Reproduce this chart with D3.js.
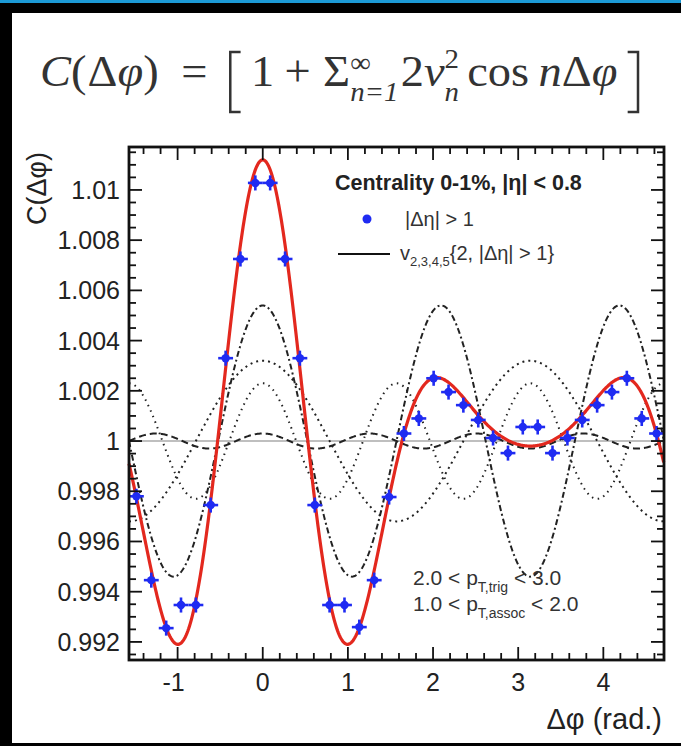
<!DOCTYPE html>
<html>
<head>
<meta charset="utf-8">
<script src="https://cdn.jsdelivr.net/npm/d3@7"></script>
<style>
  body { margin: 0; background: #000; }
  svg { display: block; }
</style>
</head>
<body>
<svg></svg>
<script>
// data
const binCenters = [-1.484, -1.309, -1.134, -0.960, -0.785, -0.611, -0.436, -0.262, -0.087,
  0.087, 0.262, 0.436, 0.611, 0.785, 0.960, 1.134, 1.309, 1.484,
  1.658, 1.833, 2.007, 2.182, 2.356, 2.531, 2.705, 2.880, 3.054,
  3.229, 3.403, 3.578, 3.752, 3.927, 4.101, 4.276, 4.451, 4.625];
const corrValues = [0.9978, 0.99446, 0.99255, 0.99347, 0.99347, 0.99745, 1.0033, 1.00725, 1.01028,
  1.01028, 1.00725, 1.0033, 0.99745, 0.99347, 0.99347, 0.99259, 0.99446, 0.99777,
  1.0003, 1.0009, 1.0025, 1.00195, 1.00143, 1.00084, 1.00012, 0.99952, 1.00056,
  1.00056, 0.99952, 1.00012, 1.00084, 1.00143, 1.00195, 1.0025, 1.0009, 1.0003];
const corrErrors = [0.0003, 0.0003, 0.0003, 0.0003, 0.0003, 0.0003, 0.0003, 0.0003, 0.0003,
  0.0003, 0.0003, 0.0003, 0.0003, 0.0003, 0.0003, 0.0003, 0.0003, 0.0003,
  0.0003, 0.0003, 0.0003, 0.0003, 0.0003, 0.0003, 0.0003, 0.0003, 0.0003,
  0.0003, 0.0003, 0.0003, 0.0003, 0.0003, 0.0003, 0.0003, 0.0003, 0.0003];
const binHalfWidth = Math.PI / 36;

// harmonic terms 2 v_n^2
const harmonics = [2, 3, 4, 5];
const amplitudes = [0.0032, 0.0054, 0.0023, 0.0003];
const dashes = ["2,4", "6,3,2,3", "1.5,4.5", "7,4"];

const xTicks = [-1, 0, 1, 2, 3, 4];
const yTicks = [0.992, 0.994, 0.996, 0.998, 1, 1.002, 1.004, 1.006, 1.008, 1.01];
const yTickLabels = ["0.992", "0.994", "0.996", "0.998", "1", "1.002", "1.004", "1.006", "1.008", "1.01"];

let width = 681,
  height = 746;

let svg = d3.select("svg").attr("width", width).attr("height", height);

// frame around the slide
svg.append("rect").attr("x", 0).attr("y", 0).attr("width", width).attr("height", 3).attr("fill", "#1c9ad6");
svg.append("rect").attr("x", 12).attr("y", 13).attr("width", width - 12).attr("height", 730).attr("fill", "#fff");

let x = d3.scaleLinear().domain([-Math.PI / 2, 3 * Math.PI / 2]).range([129, 664]);
let y = d3.scaleLinear().domain([0.99128, 1.01171]).range([660, 147]);

let tickFont = "'Liberation Sans', Arial, sans-serif";

// formula title, laid out piece by piece then stretched to the slide width
let fg = svg.append("g").attr("fill", "#333").attr("stroke", "#333")
  .style("font-family", "'Liberation Serif', 'Times New Roman', serif");
const formulaPieces = [
  { t: "C", it: true }, { t: "(" }, { t: "Δ", gap: 1 }, { t: "φ", it: true }, { t: ")" },
  { t: "=", gap: 22 }, { br: "[", gap: 22 }, { t: "1", gap: 10 }, { t: "+", gap: 10 },
  { t: "Σ", gap: 12 }, { sup: "∞", sub: "n=1" }, { t: "2" }, { t: "v", it: true },
  { sup: "2", sub: "n" }, { t: "cos", gap: 6 }, { t: "n", it: true, gap: 9 }, { t: "Δ" },
  { t: "φ", it: true }, { br: "]", gap: 10 }
];
let cx = 0;
function piece(txt, size, base, it) {
  let el = fg.append("text").attr("x", cx).attr("y", base).attr("stroke", "none")
    .style("font-size", size + "px").style("font-style", it ? "italic" : "normal").text(txt);
  return el.node().getComputedTextLength();
}
formulaPieces.forEach((p) => {
  cx += p.gap || 0;
  if (p.br) {
    let dir = p.br === "[" ? 1 : -1;
    let bx = p.br === "[" ? cx : cx + 10;
    fg.append("path").attr("fill", "none").attr("stroke-width", 2.5)
      .attr("d", `M${bx + dir * 10},52 H${bx} V112 H${bx + dir * 10}`);
    cx += 10;
  } else if (p.sup) {
    let w1 = piece(p.sup, 28, p.sup === "∞" ? 72 : 68, false);
    let w2 = piece(p.sub, 28, 101, true);
    cx += Math.max(w1, w2) + 2;
  } else {
    cx += piece(p.t, 45, 86, p.it);
  }
});
let fscale = (638 - 40) / cx;
fg.attr("transform", `translate(40,0) scale(${fscale},1)`);
fg.selectAll("path").attr("stroke-width", 2.5 / fscale);

let plot = svg.append("g");

// reference line at 1
plot.append("line")
  .attr("x1", x.range()[0]).attr("x2", x.range()[1])
  .attr("y1", y(1)).attr("y2", y(1))
  .attr("stroke", "#aaa").attr("stroke-width", 1.5);

const phiGrid = d3.range(-Math.PI / 2, 3 * Math.PI / 2 + 0.005, 0.01);

let line = d3.line().x((d) => x(d[0])).y((d) => y(d[1]));

// single harmonic components
harmonics.forEach((n, i) => {
  let pts = phiGrid.map((p) => [p, 1 + amplitudes[i] * Math.cos(n * p)]);
  plot.append("path")
    .attr("d", line(pts))
    .attr("fill", "none")
    .attr("stroke", "#222")
    .attr("stroke-width", 2)
    .attr("stroke-dasharray", dashes[i]);
});

// sum of harmonics
let sumPts = phiGrid.map((p) => {
  let s = 1;
  harmonics.forEach((n, i) => { s += amplitudes[i] * Math.cos(n * p); });
  return [p, s];
});
plot.append("path")
  .attr("d", line(sumPts))
  .attr("fill", "none")
  .attr("stroke", "#e3281e")
  .attr("stroke-width", 3.2);

// data points with error crosses
let pts = plot.append("g").attr("fill", "#1f2bf2").attr("stroke", "#1f2bf2").attr("stroke-width", 2.6);
binCenters.forEach((c, i) => {
  let v = corrValues[i];
  pts.append("line")
    .attr("x1", Math.max(x(c - binHalfWidth), x.range()[0])).attr("x2", Math.min(x(c + binHalfWidth), x.range()[1]))
    .attr("y1", y(v)).attr("y2", y(v));
  pts.append("line")
    .attr("x1", x(c)).attr("x2", x(c))
    .attr("y1", y(v - corrErrors[i])).attr("y2", y(v + corrErrors[i]));
  pts.append("circle").attr("cx", x(c)).attr("cy", y(v)).attr("r", 4.2).attr("stroke", "none");
});

// axes, ROOT style ticks inside the frame
let [x0, x1] = x.range();
let [y0, y1] = y.range();
let axes = svg.append("g").attr("stroke", "#111").attr("fill", "none");

let xMinor = d3.range(-1.4, 4.61, 0.2).map((d) => Math.round(d * 10) / 10);
xMinor.forEach((d) => {
  let big = xTicks.includes(d);
  let len = big ? 13 : 7;
  axes.append("line").attr("x1", x(d)).attr("x2", x(d)).attr("y1", y0).attr("y2", y0 - len).attr("stroke-width", 1.8);
  axes.append("line").attr("x1", x(d)).attr("x2", x(d)).attr("y1", y1).attr("y2", y1 + len).attr("stroke-width", 1.8);
});
let yMinor = d3.range(0.9915, 1.0117, 0.0005).map((d) => Math.round(d * 10000) / 10000);
yMinor.forEach((d) => {
  let big = yTicks.some((t) => Math.abs(t - d) < 1e-6);
  let len = big ? 13 : 7;
  axes.append("line").attr("x1", x0).attr("x2", x0 + len).attr("y1", y(d)).attr("y2", y(d)).attr("stroke-width", 1.8);
  axes.append("line").attr("x1", x1).attr("x2", x1 - len).attr("y1", y(d)).attr("y2", y(d)).attr("stroke-width", 1.8);
});
axes.append("rect")
  .attr("x", x0).attr("y", y1).attr("width", x1 - x0).attr("height", y0 - y1)
  .attr("stroke-width", 2.8);

// tick labels
xTicks.forEach((d) => {
  svg.append("text")
    .attr("x", x(d) - (d < 0 ? 4 : 0)).attr("y", 691)
    .attr("text-anchor", "middle")
    .style("font-family", tickFont).style("font-size", "25px").attr("fill", "#222")
    .text(d < 0 ? "-" + Math.abs(d) : d);
});
yTicks.forEach((d, i) => {
  svg.append("text")
    .attr("x", 120).attr("y", y(d) + 9)
    .attr("text-anchor", "end")
    .style("font-family", tickFont).style("font-size", "25px").attr("fill", "#222")
    .text(yTickLabels[i]);
});

// axis titles
svg.append("text")
  .attr("transform", "translate(46,152) rotate(-90)")
  .attr("text-anchor", "end")
  .style("font-family", tickFont).style("font-size", "27px").attr("fill", "#222")
  .text("C(Δφ)");
svg.append("text")
  .attr("x", 662).attr("y", 729)
  .attr("text-anchor", "end")
  .style("font-family", tickFont).style("font-size", "29px").attr("fill", "#222")
  .text("Δφ (rad.)");

// legend
svg.append("text")
  .attr("x", 335).attr("y", 190)
  .style("font-family", tickFont).style("font-size", "21.5px").style("font-weight", "bold").attr("fill", "#222")
  .text("Centrality 0-1%, |η| < 0.8");
svg.append("circle").attr("cx", 367).attr("cy", 219).attr("r", 4.5).attr("fill", "#1f2bf2");
svg.append("text")
  .attr("x", 405).attr("y", 226)
  .style("font-family", tickFont).style("font-size", "20px").attr("fill", "#333")
  .text("|Δη| > 1");
svg.append("line").attr("x1", 338).attr("x2", 390).attr("y1", 254).attr("y2", 254).attr("stroke", "#111").attr("stroke-width", 2);
let lt = svg.append("text")
  .attr("x", 400).attr("y", 260)
  .style("font-family", tickFont).style("font-size", "20px").attr("fill", "#333");
lt.append("tspan").text("v");
lt.append("tspan").attr("dy", 6).style("font-size", "13px").text("2,3,4,5");
lt.append("tspan").attr("dy", -6).text("{2, |Δη| > 1}");

// kinematic range
let k1 = svg.append("text").attr("x", 413).attr("y", 585)
  .style("font-family", tickFont).style("font-size", "21px").attr("fill", "#333");
k1.append("tspan").text("2.0 < p");
k1.append("tspan").attr("dy", 7).style("font-size", "14px").text("T,trig");
k1.append("tspan").attr("dy", -7).text(" < 3.0");
let k2 = svg.append("text").attr("x", 413).attr("y", 611)
  .style("font-family", tickFont).style("font-size", "21px").attr("fill", "#333");
k2.append("tspan").text("1.0 < p");
k2.append("tspan").attr("dy", 7).style("font-size", "14px").text("T,assoc");
k2.append("tspan").attr("dy", -7).text(" < 2.0");
</script>
</body>
</html>
